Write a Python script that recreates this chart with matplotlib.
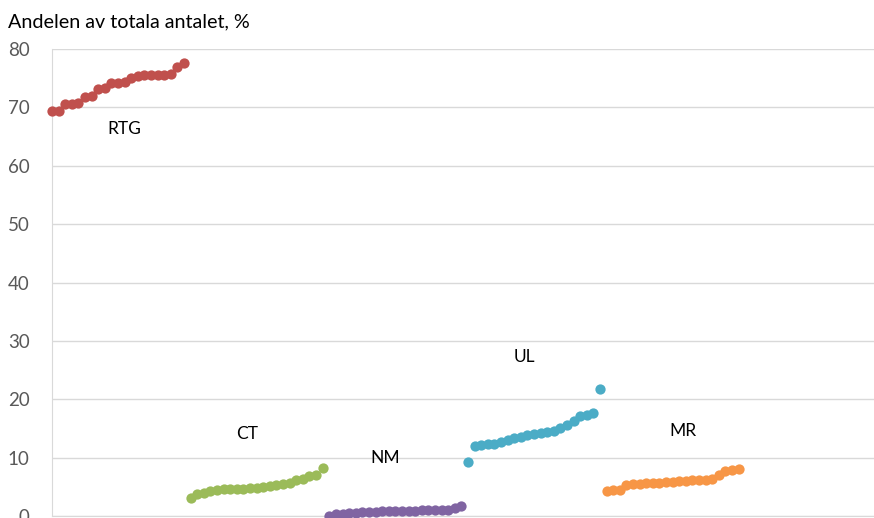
import matplotlib.pyplot as plt
import numpy as np

# andel per grupp, sorterat stigande (21 observationer per grupp)
rtg = [69.3, 69.3, 70.6, 70.6, 70.7, 71.8, 71.9, 73.1, 73.4, 74.1, 74.2,
       74.4, 75.0, 75.4, 75.5, 75.5, 75.5, 75.6, 75.7, 77.0, 77.6]
ct = [3.0, 3.8, 4.0, 4.3, 4.5, 4.6, 4.7, 4.7, 4.7, 4.8, 4.8,
      5.0, 5.1, 5.3, 5.4, 5.6, 6.2, 6.3, 6.8, 7.0, 8.3]
nm = [0.0, 0.3, 0.4, 0.5, 0.5, 0.6, 0.7, 0.7, 0.8, 0.8, 0.9,
      0.9, 0.9, 0.9, 1.0, 1.0, 1.0, 1.1, 1.1, 1.3, 1.7]
ul = [9.2, 12.0, 12.2, 12.3, 12.4, 12.7, 13.0, 13.3, 13.5, 13.8, 14.0,
      14.2, 14.4, 14.5, 15.1, 15.6, 16.3, 17.1, 17.3, 17.7, 21.8]
mr = [4.2, 4.4, 4.5, 5.3, 5.4, 5.5, 5.6, 5.7, 5.7, 5.8, 5.9,
      6.0, 6.0, 6.1, 6.1, 6.2, 6.4, 7.0, 7.7, 7.8, 8.1]

groups = ['RTG', 'CT', 'NM', 'UL', 'MR']
series = [rtg, ct, nm, ul, mr]
colors = ['#C0504D', '#9BBB59', '#8064A2', '#4BACC6', '#F79646']
# etikettens placering (x-index, y-värde)
label_pos = [(11, 66.3), (29.5, 14.0), (50.5, 10.0), (71.5, 27.3), (95.5, 14.6)]

plt.rcParams['font.family'] = ['Lato', 'DejaVu Sans']

fig = plt.figure(figsize=(8.74, 5.18), dpi=100)
ax = fig.add_axes([52 / 874, 2 / 518, 822 / 874, 467 / 518])

start = 0
for name, vals, col, (lx, ly) in zip(groups, series, colors, label_pos):
    x = np.arange(start, start + len(vals))
    ax.plot(x, vals, 'o', color=col, markersize=7.4, markeredgewidth=0,
            clip_on=False, zorder=3)
    ax.text(lx, ly, name, ha='center', va='center', fontsize=12.5, color='black')
    start += len(vals)

ax.set_xlim(0, 124.5)
ax.set_ylim(0, 80)
ax.set_yticks(range(0, 81, 10))
ax.set_xticks([])
ax.grid(axis='y', color='#D9D9D9', linewidth=1)
ax.set_axisbelow(True)
ax.tick_params(axis='y', length=0, pad=16, labelsize=13.5, labelcolor='#595959')
for s in ['top', 'right']:
    ax.spines[s].set_visible(False)
ax.spines['left'].set_color('#D9D9D9')
ax.spines['bottom'].set_color('#D9D9D9')

fig.text(8 / 874, 1 - 22 / 518, 'Andelen av totala antalet, %', fontsize=14.2,
         ha='left', va='center', color='black')

fig.savefig('out.png', dpi=100)
